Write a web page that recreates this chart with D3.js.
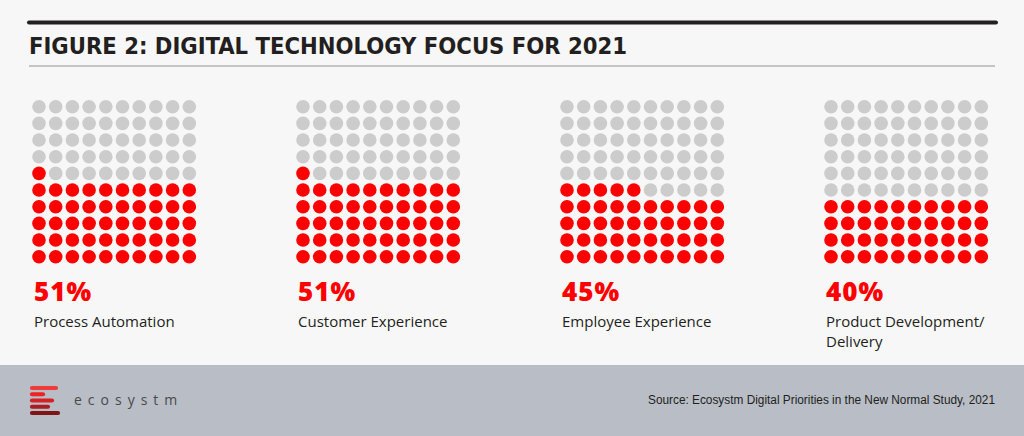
<!DOCTYPE html>
<html><head><meta charset="utf-8">
<script src="https://cdn.jsdelivr.net/npm/d3@7"></script>
<style>html,body{margin:0;padding:0;background:#f7f7f7;}svg{display:block;}</style>
</head><body>
<svg id="chart" width="1024" height="436"></svg>
<script>
const categories = ["Process Automation", "Customer Experience", "Employee Experience", "Product Development/|Delivery"];
const values = [51, 51, 45, 40];
const title = "FIGURE 2: DIGITAL TECHNOLOGY FOCUS FOR 2021";
const source = "Source: Ecosystm Digital Priorities in the New Normal Study, 2021";

const svg = d3.select("#chart");
const W = 1024, H = 436;
svg.append("rect").attr("width", W).attr("height", H).attr("fill", "#f7f7f7");

// header rules
svg.append("line").attr("x1", 29).attr("x2", 996).attr("y1", 22.5).attr("y2", 22.5)
  .attr("stroke", "#231f20").attr("stroke-width", 4).attr("stroke-linecap", "round");
svg.append("text").attr("x", 29).attr("y", 54)
  .attr("font-family", "'Liberation Sans Narrow','DejaVu Sans Condensed',sans-serif")
  .attr("font-weight", "bold").attr("font-size", 23.5).attr("fill", "#231f20")
  .attr("textLength", 598).attr("lengthAdjust", "spacingAndGlyphs")
  .text(title);
svg.append("line").attr("x1", 29).attr("x2", 995).attr("y1", 66).attr("y2", 66)
  .attr("stroke", "#c4c4c4").attr("stroke-width", 2);

// waffle scales
const panelX = d3.scaleBand().domain(d3.range(categories.length)).range([31, 1087]);
const col = d3.scaleLinear().domain([0, 9]).range([0, 150.3]);
const row = d3.scaleLinear().domain([0, 9]).range([256.7, 106.7]); // row 0 at bottom

categories.forEach((cat, i) => {
  const g = svg.append("g").attr("transform", `translate(${panelX(i) + 8},0)`);
  const cells = d3.range(100).map(k => ({r: Math.floor(k / 10), c: k % 10, on: k < values[i]}));
  g.selectAll("circle").data(cells).join("circle")
    .attr("cx", d => col(d.c)).attr("cy", d => row(d.r)).attr("r", 6.8)
    .attr("fill", d => d.on ? "#ff0000" : "#cccccc");
  const lx = panelX(i) + 3;
  svg.append("text").attr("x", lx).attr("y", 301)
    .attr("font-family", "'Open Sans','Liberation Sans',sans-serif").attr("font-weight", 800)
    .attr("font-size", 26).attr("fill", "#ff0000").attr("letter-spacing", 1)
    .text(values[i] + "%");
  const lines = cat.split("|");
  lines.forEach((ln, j) => {
    svg.append("text").attr("x", lx).attr("y", 327 + j * 20)
      .attr("font-family", "'Open Sans','Liberation Sans',sans-serif")
      .attr("font-size", 15).attr("fill", "#231f20").text(ln);
  });
});

// footer
svg.append("rect").attr("x", 0).attr("y", 365).attr("width", W).attr("height", 71).attr("fill", "#b8bdc6");
const bars = [{w: 28, c: "#f03a3a"}, {w: 15, c: "#ee2222"}, {w: 24, c: "#d52027"}, {w: 20, c: "#a81c22"}, {w: 30, c: "#7f1416"}];
const by = d3.scaleLinear().domain([0, 4]).range([388, 413]);
svg.selectAll(".logo").data(bars).join("line")
  .attr("x1", 32).attr("x2", d => 28 + d.w)
  .attr("y1", (d, k) => by(k)).attr("y2", (d, k) => by(k))
  .attr("stroke", d => d.c).attr("stroke-width", 4.2).attr("stroke-linecap", "round");
svg.append("text").attr("x", 74).attr("y", 405)
  .attr("font-family", "'Open Sans','Liberation Sans',sans-serif").attr("font-size", 14)
  .attr("fill", "#4a4a4a").attr("letter-spacing", 6).text("ecosystm");
svg.append("text").attr("x", 995).attr("y", 404).attr("text-anchor", "end")
  .attr("font-family", "'Liberation Sans','Open Sans',sans-serif").attr("font-size", 12.5)
  .attr("fill", "#231f20").attr("textLength", 347).attr("lengthAdjust", "spacingAndGlyphs")
  .text(source);
</script>
</body></html>
